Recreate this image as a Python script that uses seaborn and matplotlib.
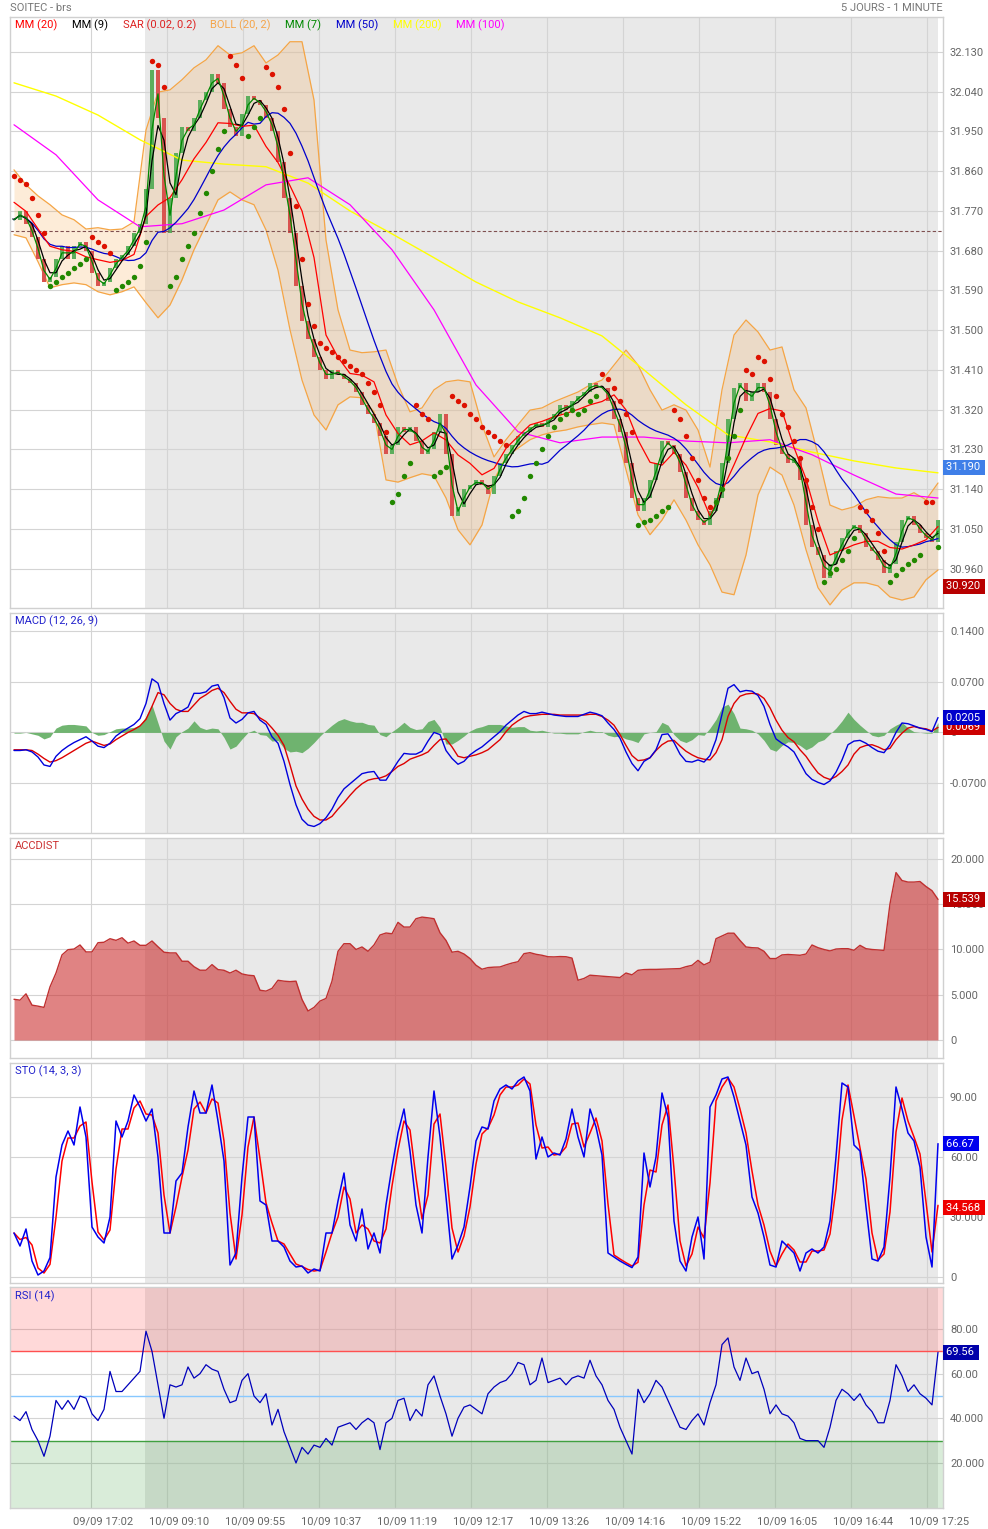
import numpy as np
import pandas as pd
import matplotlib
matplotlib.use("Agg")
import matplotlib.pyplot as plt
import seaborn as sns
from matplotlib.transforms import ScaledTranslation, blended_transform_factory

# values, one sample every 3 bars (left to right)
closes = [
    31.75, 31.77, 31.74, 31.71, 31.66, 31.61, 31.62, 31.66, 31.69, 31.66,
    31.69, 31.70, 31.68, 31.63, 31.60, 31.61, 31.64, 31.66, 31.67, 31.69,
    31.72, 31.74, 31.82, 32.09, 31.98, 31.72, 31.80, 31.90, 31.96, 31.95,
    31.98, 32.02, 32.04, 32.08, 32.06, 32.00, 31.96, 31.94, 31.99, 32.03,
    32.02, 32.01, 31.98, 31.95, 31.88, 31.80, 31.72, 31.60, 31.52, 31.48,
    31.44, 31.41, 31.39, 31.41, 31.40, 31.39, 31.38, 31.36, 31.33, 31.31,
    31.29, 31.26, 31.22, 31.24, 31.28, 31.27, 31.28, 31.25, 31.22, 31.23,
    31.27, 31.31, 31.22, 31.08, 31.10, 31.14, 31.15, 31.16, 31.15, 31.13,
    31.17, 31.20, 31.22, 31.24, 31.26, 31.27, 31.28, 31.29, 31.28, 31.30,
    31.31, 31.33, 31.32, 31.34, 31.35, 31.36, 31.38, 31.37, 31.37, 31.34,
    31.30, 31.27, 31.20, 31.12, 31.09, 31.12, 31.16, 31.20, 31.25, 31.24,
    31.22, 31.18, 31.12, 31.09, 31.07, 31.06, 31.09, 31.12, 31.20, 31.30,
    31.37, 31.38, 31.34, 31.36, 31.38, 31.36, 31.30, 31.24, 31.22, 31.20,
    31.21, 31.16, 31.06, 31.01, 30.99, 30.94, 30.97, 31.00, 31.03, 31.05,
    31.06, 31.04, 31.01, 31.00, 30.98, 30.95, 30.97, 31.02, 31.07, 31.08,
    31.06, 31.04, 31.03, 31.02, 31.07,
]

# parabolic SAR dots, same sampling as closes
sar = [
    31.85, 31.84, 31.83, 31.80, 31.76, 31.72, 31.60, 31.61, 31.62, 31.63,
    31.64, 31.65, 31.66, 31.71, 31.70, 31.69, 31.675, 31.59, 31.60, 31.61,
    31.62, 31.645, 31.70, 32.11, 32.10, 32.05, 31.60, 31.62, 31.66, 31.69,
    31.72, 31.765, 31.81, 31.86, 31.91, 31.95, 32.12, 32.10, 32.07, 31.94,
    31.96, 31.98, 32.095, 32.08, 32.05, 32.00, 31.90, 31.78, 31.66, 31.56,
    31.51, 31.47, 31.46, 31.45, 31.44, 31.43, 31.42, 31.41, 31.40, 31.38,
    31.36, 31.33, 31.27, 31.11, 31.13, 31.17, 31.20, 31.33, 31.31, 31.30,
    31.17, 31.18, 31.19, 31.35, 31.34, 31.33, 31.31, 31.30, 31.28, 31.27,
    31.26, 31.25, 31.24, 31.08, 31.09, 31.12, 31.17, 31.20, 31.23, 31.26,
    31.28, 31.30, 31.31, 31.32, 31.31, 31.32, 31.34, 31.35, 31.40, 31.39,
    31.37, 31.34, 31.31, 31.27, 31.06, 31.065, 31.07, 31.08, 31.09, 31.10,
    31.32, 31.30, 31.26, 31.21, 31.16, 31.12, 31.10, 31.11, 31.14, 31.21,
    31.26, 31.32, 31.41, 31.40, 31.44, 31.43, 31.39, 31.35, 31.31, 31.28,
    31.25, 31.21, 31.16, 31.10, 31.05, 30.93, 30.95, 30.96, 30.98, 31.00,
    31.03, 31.10, 31.09, 31.07, 31.04, 31.00, 30.93, 30.945, 30.96, 30.97,
    30.98, 30.99, 31.11, 31.11, 31.01,
]

# BOLL (20, 2) bands, one sample every 6 bars
boll_upper = [
    31.863, 31.829, 31.804, 31.784, 31.761, 31.750, 31.729, 31.732, 31.727, 31.729,
    31.745, 31.953, 32.039, 32.044, 32.067, 32.094, 32.112, 32.144, 32.123, 32.128,
    32.144, 32.105, 32.123, 32.153, 32.153, 32.021, 31.704, 31.546, 31.455, 31.449,
    31.451, 31.455, 31.376, 31.315, 31.324, 31.365, 31.383, 31.387, 31.383, 31.286,
    31.213, 31.252, 31.286, 31.319, 31.324, 31.338, 31.349, 31.360, 31.376, 31.387,
    31.421, 31.455, 31.421, 31.365, 31.319, 31.331, 31.319, 31.274, 31.190, 31.365,
    31.489, 31.523, 31.496, 31.455, 31.462, 31.365, 31.324, 31.218, 31.104, 31.093,
    31.100, 31.116, 31.123, 31.120, 31.120, 31.132, 31.116, 31.154,
]
boll_lower = [
    31.716, 31.709, 31.655, 31.596, 31.603, 31.607, 31.603, 31.587, 31.580, 31.587,
    31.598, 31.562, 31.528, 31.557, 31.614, 31.682, 31.738, 31.795, 31.813, 31.795,
    31.784, 31.727, 31.636, 31.501, 31.387, 31.308, 31.274, 31.331, 31.349, 31.347,
    31.315, 31.161, 31.156, 31.166, 31.175, 31.170, 31.120, 31.048, 31.014, 31.059,
    31.161, 31.213, 31.233, 31.252, 31.263, 31.270, 31.274, 31.281, 31.286, 31.290,
    31.286, 31.184, 31.082, 31.037, 31.070, 31.116, 31.070, 31.014, 30.969, 30.907,
    30.901, 30.991, 31.127, 31.190, 31.172, 31.104, 31.003, 30.917, 30.878, 30.912,
    30.928, 30.928, 30.921, 30.896, 30.889, 30.896, 30.935, 30.957,
]

# MM (100) and MM (200), one sample every 21 bars
mm100 = [31.965, 31.897, 31.795, 31.734, 31.741, 31.772, 31.829, 31.845, 31.784, 31.682,
         31.546, 31.376, 31.270, 31.245, 31.258, 31.258, 31.249, 31.245, 31.252, 31.218,
         31.172, 31.129, 31.120]
mm200 = [32.060, 32.030, 31.987, 31.931, 31.885, 31.876, 31.870, 31.833, 31.770, 31.718,
         31.664, 31.609, 31.564, 31.528, 31.487, 31.410, 31.331, 31.263, 31.247, 31.224,
         31.204, 31.188, 31.177]

macd_line = [
    -0.025, -0.025, -0.024, -0.027, -0.034, -0.045, -0.047, -0.033, -0.025, -0.019,
    -0.014, -0.010, -0.006, -0.012, -0.019, -0.021, -0.015, -0.005, 0.001, 0.006,
    0.011, 0.019, 0.040, 0.074, 0.068, 0.040, 0.017, 0.026, 0.030, 0.035,
    0.054, 0.054, 0.056, 0.064, 0.066, 0.048, 0.020, 0.013, 0.018, 0.027,
    0.029, 0.017, 0.011, -0.006, -0.015, -0.040, -0.072, -0.100, -0.120, -0.128,
    -0.130, -0.126, -0.118, -0.106, -0.090, -0.078, -0.071, -0.064, -0.057, -0.055,
    -0.054, -0.066, -0.066, -0.053, -0.040, -0.029, -0.030, -0.030, -0.026, -0.012,
    0.000, -0.003, -0.025, -0.036, -0.044, -0.040, -0.031, -0.025, -0.020, -0.013,
    -0.006, 0.001, 0.010, 0.017, 0.024, 0.029, 0.026, 0.026, 0.028, 0.026,
    0.024, 0.023, 0.022, 0.022, 0.022, 0.025, 0.028, 0.026, 0.023, 0.013,
    0.004, -0.008, -0.027, -0.043, -0.053, -0.040, -0.035, -0.024, -0.003, -0.002,
    -0.014, -0.030, -0.040, -0.041, -0.038, -0.041, -0.032, -0.010, 0.025, 0.061,
    0.066, 0.056, 0.058, 0.057, 0.051, 0.036, 0.011, -0.009, -0.015, -0.020,
    -0.027, -0.042, -0.057, -0.065, -0.069, -0.072, -0.067, -0.055, -0.038, -0.017,
    -0.012, -0.011, -0.015, -0.021, -0.026, -0.028, -0.017, 0.000, 0.013, 0.012,
    0.009, 0.006, 0.004, 0.001, 0.0205,
]
macd_signal = [
    -0.024, -0.024, -0.024, -0.025, -0.030, -0.036, -0.041, -0.039, -0.035, -0.030,
    -0.025, -0.020, -0.015, -0.012, -0.015, -0.018, -0.016, -0.010, -0.005, 0.000,
    0.004, 0.009, 0.018, 0.036, 0.055, 0.052, 0.040, 0.032, 0.029, 0.029,
    0.038, 0.047, 0.052, 0.058, 0.061, 0.055, 0.043, 0.032, 0.027, 0.027,
    0.026, 0.020, 0.015, 0.006, -0.004, -0.018, -0.045, -0.074, -0.092, -0.106,
    -0.116, -0.121, -0.121, -0.116, -0.106, -0.097, -0.087, -0.078, -0.071, -0.066,
    -0.064, -0.063, -0.060, -0.054, -0.047, -0.043, -0.037, -0.034, -0.031, -0.027,
    -0.018, -0.010, -0.009, -0.020, -0.033, -0.035, -0.033, -0.031, -0.028, -0.024,
    -0.017, -0.010, 0.001, 0.010, 0.016, 0.021, 0.023, 0.024, 0.025, 0.025,
    0.025, 0.024, 0.024, 0.024, 0.024, 0.024, 0.025, 0.025, 0.022, 0.017,
    0.010, -0.003, -0.018, -0.032, -0.039, -0.038, -0.035, -0.025, -0.017, -0.012,
    -0.011, -0.019, -0.026, -0.031, -0.035, -0.037, -0.038, -0.028, -0.010, 0.022,
    0.040, 0.050, 0.053, 0.054, 0.053, 0.047, 0.034, 0.017, 0.003, -0.007,
    -0.013, -0.024, -0.033, -0.045, -0.056, -0.062, -0.065, -0.061, -0.054, -0.045,
    -0.030, -0.021, -0.018, -0.017, -0.020, -0.024, -0.022, -0.010, -0.001, 0.006,
    0.008, 0.006, 0.005, 0.002, 0.0069,
]

accdist = [
    4500, 4400, 5100, 3850, 3740, 3600, 5870, 7400, 9400, 9980,
    10050, 10500, 9730, 9730, 10750, 10800, 11190, 11010, 11300, 10700,
    10940, 10460, 10460, 10940, 10300, 9700, 9620, 9620, 8700, 8700,
    8100, 7710, 7710, 8330, 7780, 7700, 7400, 7710, 7300, 7160,
    7100, 5500, 5400, 5700, 6600, 6500, 6450, 6500, 4480, 3200,
    3600, 4300, 4590, 6500, 9800, 10640, 10640, 10000, 10280, 9800,
    10500, 11600, 11820, 11740, 13000, 12480, 12480, 13400, 13580, 13500,
    13400, 11850, 11000, 9700, 9800, 9500, 9000, 8260, 7820, 8000,
    8050, 8070, 8300, 8500, 8650, 9540, 9650, 9470, 9360, 9200,
    9180, 9220, 9200, 9050, 6600, 6800, 7160, 7100, 7050, 7000,
    6950, 6900, 7400, 7200, 7700, 7780, 7800, 7800, 7820, 7850,
    7870, 7890, 8100, 8250, 8800, 8300, 8600, 11190, 11500, 11800,
    11800, 11000, 10280, 10200, 10170, 9800, 9000, 9000, 9400, 9450,
    9400, 9360, 9500, 10500, 10200, 10000, 9840, 10050, 10090, 10090,
    9910, 10460, 10090, 10000, 9950, 9900, 15050, 18500, 17620, 17450,
    17450, 17510, 16960, 16500, 15539,
]

sto_k = [
    22, 15.5, 24, 8, 1, 3, 9.7, 50, 66, 73,
    66, 85, 70, 25, 20, 17, 30, 78, 70, 78,
    91, 85, 78, 84, 60, 22, 22, 48, 52, 75,
    93, 82, 82, 96, 78, 58, 6, 12, 50, 80,
    80, 38, 36, 18, 18, 15, 8, 5, 5.5, 2,
    4, 3, 22, 22, 38, 52, 26, 18, 34, 14,
    22, 12, 36, 55, 72, 84, 63, 36, 22, 60,
    93, 70, 40, 9, 16, 25, 45, 68, 75, 74,
    88, 94, 96, 94, 98, 100, 93, 59, 70, 60,
    62, 61, 69, 84, 70, 60, 84, 75, 61, 12,
    10, 8, 6.3, 4.7, 10, 62, 45, 60, 92, 80,
    28, 8, 3, 20, 30, 9, 85, 91, 99, 100,
    90, 78, 66, 40, 32, 20, 6, 5, 18, 15,
    12, 3, 12, 14, 12, 15, 28, 60, 97, 95,
    66, 63, 35, 9, 8, 15, 50, 95, 84, 72,
    68, 55, 20, 5, 66.67,
]

rsi = [
    41, 39, 43, 35, 30, 23, 32, 48, 44, 48,
    44, 50, 49, 42, 39, 44, 61, 52, 52, 55,
    58, 61, 79, 70, 55, 40, 55, 54, 55, 63,
    58, 60, 64, 62, 61, 53, 47, 48, 57, 60,
    50, 47, 51, 37, 44, 34, 27, 20, 27, 24,
    28, 27, 31, 28, 36, 37, 38, 35, 38, 40,
    38, 26, 38, 40, 48, 49, 39, 44, 41, 55,
    59, 50, 42, 32, 40, 45, 46, 44, 42, 51,
    54, 56, 57, 60, 65, 64, 55, 57, 67, 56,
    57, 58, 55, 58, 59, 58, 66, 59, 55, 48,
    44, 36, 30, 24, 53, 47, 51, 57, 54, 48,
    42, 36, 35, 39, 42, 37, 47, 55, 73, 76,
    63, 57, 67, 60, 61, 53, 42, 46, 42, 41,
    38, 31, 30, 30, 30, 27, 36, 48, 53, 51,
    48, 51, 46, 43, 38, 38, 48, 64, 59, 52,
    55, 51, 49, 46, 69.56,
]

time_labels = ["09/09 17:02", "10/09 09:10", "10/09 09:55", "10/09 10:37",
               "10/09 11:19", "10/09 12:17", "10/09 13:26", "10/09 14:16",
               "10/09 15:22", "10/09 16:05", "10/09 16:44", "10/09 17:25"]
price_ticks = [30.96, 31.05, 31.14, 31.23, 31.32, 31.41, 31.50, 31.59,
               31.68, 31.77, 31.86, 31.95, 32.04, 32.13]
macd_ticks = [-0.07, 0, 0.07, 0.14]
macd_tick_labels = ["-0.0700", "0", "0.0700", "0.1400"]
acc_ticks = [0, 5000, 10000, 15000, 20000]
acc_tick_labels = ["0", "5.000", "10.000", "15.000", "20.000"]
sto_ticks = [0, 30, 60, 90]
sto_tick_labels = ["0", "30.000", "60.00", "90.00"]
rsi_ticks = [20, 40, 60, 80]
rsi_tick_labels = ["20.000", "40.000", "60.00", "80.00"]
ref_price = 31.725

n = len(closes)
for arr in (sar, macd_line, macd_signal, accdist, sto_k, rsi):
    assert len(arr) == n, len(arr)
assert len(boll_upper) == len(boll_lower) == 78

# ---- derived series ----
x = np.arange(n) * 3
x_boll = np.arange(len(boll_upper)) * 6
x_slow = np.arange(len(mm100)) * 21
c = pd.Series(closes)
opens = np.r_[closes[0], closes[:-1]]
mm7 = c.rolling(2, min_periods=1).mean()
mm9 = c.rolling(3, min_periods=1).mean()
mm20 = (np.array(boll_upper) + np.array(boll_lower)) / 2
mm50 = c.rolling(17, min_periods=1).mean()
hist = np.array(macd_line) - np.array(macd_signal)
sto_d = pd.Series(sto_k).rolling(2, min_periods=1).mean()
sar = np.array(sar)
sar_above = sar > np.array(closes)

# ---- figure ----
sns.set_theme(style="white")
plt.rcParams["font.family"] = ["Roboto", "DejaVu Sans"]

W, H = 988, 1529
fig = plt.figure(figsize=(W / 100, H / 100), dpi=100)
fig.patch.set_facecolor("white")
tick_bars = 38.5 + 38 * np.arange(len(time_labels))


def panel(top, bottom):
    return fig.add_axes([10 / W, 1 - bottom / H, 933 / W, (bottom - top) / H])


def style(ax, ylim, yticks, ylabels):
    ax.set_facecolor("white")
    ax.set_xlim(-2, 464.5)
    ax.set_ylim(*ylim)
    ax.axvspan(65.5, 462, color="#e9e9e9", zorder=0, lw=0)
    ax.set_xticks(tick_bars)
    ax.set_xticklabels(time_labels)
    ax.set_yticks(yticks)
    ax.set_yticklabels(ylabels)
    ax.yaxis.tick_right()
    ax.grid(True, color="#d4d4d4", lw=0.8)
    ax.set_axisbelow(True)
    ax.tick_params(axis="both", length=0, pad=5, labelsize=8, labelcolor="#666666")
    ax.tick_params(axis="x", labelbottom=False)
    for s in ax.spines.values():
        s.set_color("#d0d0d0")
        s.set_linewidth(1)
    ax.set_xlabel("")
    ax.set_ylabel("")


def value_box(ax, y, text, color):
    tr = blended_transform_factory(ax.transAxes, ax.transData)
    ax.text(1.003, y, text + " ", transform=tr, ha="left", va="center", color="white",
            fontsize=8, clip_on=False, zorder=10,
            bbox=dict(boxstyle="square,pad=0.22", fc=color, ec="none"))


# price panel
ax = panel(17, 608)
ax.fill_between(x_boll, boll_lower, boll_upper, color="#f5a040", alpha=0.2, lw=0, zorder=1)
sns.lineplot(x=x_boll, y=boll_upper, ax=ax, color="#f5a545", lw=0.9, zorder=1.5)
sns.lineplot(x=x_boll, y=boll_lower, ax=ax, color="#f5a545", lw=0.9, zorder=1.5)
body = np.array(closes) - opens
doji = np.abs(body) < 0.004
colors = np.where(body >= 0, "#5dae5d", "#d9534f")
colors[doji] = "#8a8f99"
body[doji] = 0.003
ax.bar(x, body, bottom=opens, width=1.6, color=colors, lw=0, zorder=2)
ax.axhline(ref_price, color="#7f5050", lw=0.8, ls=(0, (3, 2)), zorder=2.5)
sns.lineplot(x=x_slow, y=mm200, ax=ax, color="#ffff00", lw=1, zorder=3)
sns.lineplot(x=x_slow, y=mm100, ax=ax, color="#ff00ff", lw=0.9, zorder=3)
sns.lineplot(x=x, y=mm50, ax=ax, color="#0000cc", lw=0.9, zorder=3)
sns.lineplot(x=x_boll, y=mm20, ax=ax, color="#ff0000", lw=0.9, zorder=3)
sns.lineplot(x=x, y=mm9, ax=ax, color="#000000", lw=0.9, zorder=3)
sns.lineplot(x=x, y=mm7, ax=ax, color="#008800", lw=0.9, zorder=3)
sns.scatterplot(x=x[sar_above], y=sar[sar_above], ax=ax, color="#dd1100", s=15, lw=0, zorder=4)
sns.scatterplot(x=x[~sar_above], y=sar[~sar_above], ax=ax, color="#228800", s=15, lw=0, zorder=4)
style(ax, (30.871, 32.209), price_ticks, [f"{t:.3f}" for t in price_ticks])
value_box(ax, 31.190, "31.190", "#3f7fe8")
value_box(ax, 30.920, "30.920", "#b80000")

legend = [("MM (20)", "#ff0000", 15), ("MM (9)", "#000000", 72),
          ("SAR (0.02, 0.2)", "#dd2222", 123), ("BOLL (20, 2)", "#f5a54a", 210),
          ("MM (7)", "#008800", 285), ("MM (50)", "#0000cc", 336),
          ("MM (200)", "#ffff00", 393), ("MM (100)", "#ff00ff", 456)]
for label, col, px in legend:
    fig.text(px / W, 1 - 25 / H, label, color=col, fontsize=8, ha="left", va="center")
fig.text(10 / W, 1 - 8 / H, "SOITEC - brs", color="#777777", fontsize=8, ha="left", va="center")
fig.text(943 / W, 1 - 8 / H, "5 JOURS - 1 MINUTE", color="#777777", fontsize=8,
         ha="right", va="center")

# MACD panel
ax = panel(613, 833)
ax.fill_between(x, 0, hist, color="#62ad62", alpha=0.9, lw=0, zorder=1)
sns.lineplot(x=x, y=macd_signal, ax=ax, color="#dd0000", lw=1, zorder=3)
sns.lineplot(x=x, y=macd_line, ax=ax, color="#0000dd", lw=1, zorder=3)
style(ax, (-0.139, 0.165), macd_ticks, macd_tick_labels)
value_box(ax, 0.0069, "0.0069", "#cc0000")
value_box(ax, 0.0205, "0.0205", "#0000cc")
fig.text(15 / W, 1 - 621 / H, "MACD (12, 26, 9)", color="#2222cc", fontsize=8, va="center")

# ACCDIST panel
ax = panel(838, 1058)
ax.fill_between(x, 0, accdist, color="#c81e1e", alpha=0.55, lw=0, zorder=1)
sns.lineplot(x=x, y=accdist, ax=ax, color="#c03030", lw=1, zorder=3)
style(ax, (-1990, 22320), acc_ticks, acc_tick_labels)
value_box(ax, 15539, "15.539", "#b80000")
fig.text(15 / W, 1 - 846 / H, "ACCDIST", color="#cc3333", fontsize=8, va="center")

# STO panel
ax = panel(1063, 1283)
sns.lineplot(x=x, y=sto_d, ax=ax, color="#ff0000", lw=1.1, zorder=3)
sns.lineplot(x=x, y=sto_k, ax=ax, color="#0000ee", lw=1.1, zorder=3)
style(ax, (-3, 107), sto_ticks, sto_tick_labels)
value_box(ax, 66.67, "66.67", "#0000ee")
value_box(ax, 34.568, "34.568", "#ee0000")
fig.text(15 / W, 1 - 1071 / H, "STO (14, 3, 3)", color="#2222cc", fontsize=8, va="center")

# RSI panel
ax = panel(1287, 1508)
ax.axhspan(70, 100, color="#ff0000", alpha=0.15, lw=0, zorder=0.6)
ax.axhspan(-1, 30, color="#008000", alpha=0.15, lw=0, zorder=0.6)
ax.axhline(70, color="#ff5050", lw=1, zorder=1)
ax.axhline(50, color="#88c8ff", lw=1, zorder=1)
ax.axhline(30, color="#40a040", lw=1, zorder=1)
sns.lineplot(x=x, y=rsi, ax=ax, color="#0000bb", lw=0.9, zorder=3)
style(ax, (-0.16, 98.8), rsi_ticks, rsi_tick_labels)
ax.tick_params(axis="x", labelbottom=True, pad=6)
offset = ScaledTranslation(12 / 100, 0, fig.dpi_scale_trans)
for lab in ax.get_xticklabels():
    lab.set_transform(lab.get_transform() + offset)
value_box(ax, 69.56, "69.56", "#0000aa")
fig.text(15 / W, 1 - 1296 / H, "RSI (14)", color="#2222cc", fontsize=8, va="center")

fig.savefig("out.png", dpi=100, facecolor="white")
